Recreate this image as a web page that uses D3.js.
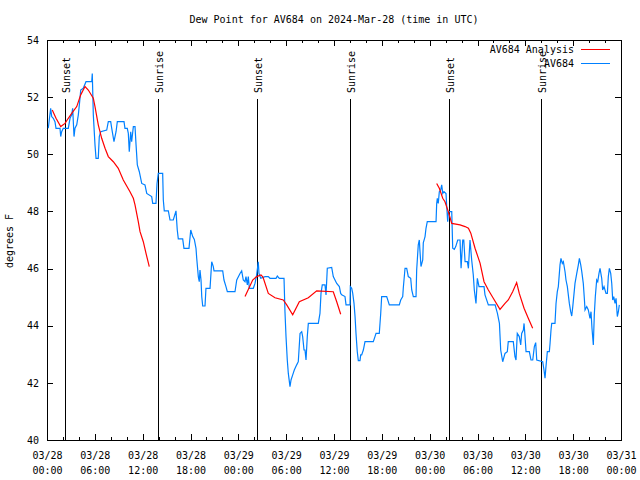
<!DOCTYPE html>
<html>
<head>
<meta charset="utf-8">
<script src="https://cdn.jsdelivr.net/npm/d3@7"></script>
<style>
  html, body { margin: 0; padding: 0; background: #ffffff; }
  svg { display: block; }
  text { font-family: "DejaVu Sans Mono", "Liberation Mono", monospace; font-size: 10px; fill: #000; }
</style>
</head>
<body>
<svg id="chart" width="640" height="480"></svg>
<script>
// ---------------- DATA ----------------
const titleText = "Dew Point for AV684 on 2024-Mar-28 (time in UTC)";
const yLabelText = "degrees F";
const seriesNames = ["AV684 Analysis", "AV684"];
const startDate = Date.UTC(2024, 2, 28, 0, 0);   // 03/28 00:00 UTC
const spanHours = 72;

const yTicks = [40, 42, 44, 46, 48, 50, 52, 54];
const xMajorTickHours = [0, 6, 12, 18, 24, 30, 36, 42, 48, 54, 60, 66, 72];
const xTickLine1 = ["03/28","03/28","03/28","03/28","03/29","03/29","03/29","03/29","03/30","03/30","03/30","03/30","03/31"];
const xTickLine2 = ["00:00","06:00","12:00","18:00","00:00","06:00","12:00","18:00","00:00","06:00","12:00","18:00","00:00"];

const sunsetHours = [2.26, 26.34, 50.43];
const sunriseHours = [13.92, 38.01, 61.97];

// Observations (AV684), hours since 03/28 00:00 UTC
const obsHours = [0.16,0.46,0.59,0.79,1.00,1.13,1.63,1.72,1.84,2.04,2.67,2.89,3.10,3.22,3.39,3.51,3.73,3.93,4.14,4.23,
4.55,4.89,5.61,5.68,5.81,6.02,6.15,6.43,6.56,6.74,7.49,7.69,7.99,8.12,8.40,8.66,8.82,9.66,9.78,10.07,
10.20,10.32,10.50,10.62,10.83,11.04,11.17,11.33,11.58,11.88,12.29,12.51,13.13,13.26,13.67,13.80,13.96,14.51,14.59,14.71,
15.22,15.43,15.84,16.18,16.34,16.47,17.02,17.18,17.81,18.03,18.28,18.48,18.69,18.78,18.98,19.10,19.19,19.32,19.41,19.53,
19.82,19.94,20.45,20.66,20.86,20.95,22.04,22.20,22.45,22.62,23.58,23.80,24.21,24.42,24.62,24.84,24.96,25.13,25.25,25.38,
25.88,26.09,26.30,26.50,26.59,26.81,27.35,27.76,27.97,28.73,28.89,29.14,29.73,29.85,29.98,30.14,30.27,30.48,30.61,30.82,
31.02,31.32,31.52,31.74,31.95,32.07,32.24,32.36,32.49,32.65,32.78,34.03,34.24,34.37,34.53,34.87,35.00,35.16,35.71,35.91,
36.34,36.67,36.84,36.97,37.38,37.51,38.01,38.05,38.22,38.35,38.51,38.64,38.76,38.92,39.05,39.26,39.35,39.47,39.68,39.89,
40.93,41.14,41.27,41.68,41.86,41.98,42.61,42.94,44.19,44.37,44.62,44.69,44.91,45.12,45.32,45.62,45.75,45.95,46.29,46.37,
46.57,46.70,46.79,46.91,47.13,47.20,47.42,47.54,47.70,48.80,48.88,48.96,49.08,49.21,49.38,49.51,49.64,49.80,50.05,50.14,
50.26,50.34,50.46,50.77,50.89,51.09,51.27,51.52,51.81,51.94,52.15,52.28,52.44,52.73,52.86,53.06,53.27,53.47,53.60,53.81,
53.98,54.19,54.82,54.94,55.36,56.21,56.50,56.75,56.91,57.16,57.45,57.74,57.86,58.49,58.70,58.83,58.99,59.24,59.42,59.54,
59.75,59.84,59.96,60.09,60.50,60.71,60.93,61.13,61.30,61.43,62.18,62.34,62.47,62.59,62.76,63.01,63.10,63.22,63.31,63.72,
63.85,64.01,64.14,64.35,64.47,64.64,64.77,64.98,65.10,65.27,65.52,65.69,65.82,65.95,66.11,66.23,66.45,66.65,66.78,66.95,
67.08,67.27,67.40,67.49,67.70,67.90,68.11,68.24,68.36,68.53,68.65,68.78,68.95,69.08,69.24,69.37,69.58,69.70,69.87,70.12,
70.29,70.41,70.54,70.71,70.84,70.96,71.09,71.25,71.38,71.54,71.67,71.79];
const obsValues = [50.91,51.61,51.32,51.26,51.14,50.91,50.91,50.62,50.79,50.91,50.91,51.26,51.38,51.61,50.62,50.91,51.03,51.38,51.96,52.25,
52.31,52.54,52.54,52.83,51.38,50.33,49.86,49.86,50.62,50.79,50.85,51.14,51.14,50.91,50.44,50.79,51.14,51.14,50.91,50.91,
50.73,50.09,50.79,50.44,50.97,50.97,50.33,49.63,49.39,48.98,48.93,48.63,48.52,48.28,48.28,48.98,49.33,49.33,48.40,48.02,
48.02,47.70,47.70,48.02,47.35,47.04,47.04,46.71,46.71,47.35,47.12,47.02,46.71,46.36,45.72,45.54,45.95,45.60,45.02,44.69,
44.69,45.31,45.31,46.24,46.07,45.92,45.92,45.60,45.37,45.19,45.19,45.60,45.83,45.92,45.60,45.54,45.72,45.43,45.72,45.31,
45.31,45.48,45.78,46.24,45.83,45.66,45.72,45.72,45.66,45.66,45.74,45.66,45.66,44.49,43.62,42.80,42.33,41.87,42.10,42.28,
42.45,42.63,42.74,43.73,43.79,43.62,43.15,43.15,42.80,43.62,44.08,44.08,44.43,45.13,45.43,45.43,45.08,46.01,46.04,45.72,
45.48,45.37,45.13,45.08,45.02,44.73,44.73,45.37,45.31,45.13,44.78,44.32,43.73,43.09,42.78,42.78,42.98,42.98,43.15,43.44,
43.44,43.62,43.73,43.73,44.43,45.02,45.02,44.73,44.73,44.90,45.02,45.31,46.01,46.01,45.72,45.66,45.25,45.02,45.02,45.95,
46.83,47.00,46.59,46.07,46.30,46.90,47.12,47.41,47.64,47.64,48.28,48.46,48.28,48.69,48.75,48.93,48.63,48.69,48.63,48.17,
47.64,47.95,47.99,47.99,46.71,46.67,46.77,47.00,47.00,46.01,47.00,47.00,46.24,46.24,46.01,47.00,46.30,45.78,45.25,44.78,
45.66,45.37,45.37,45.08,44.73,44.73,44.43,44.08,43.15,42.74,43.03,43.09,43.44,43.44,42.92,42.80,43.73,43.62,43.33,43.73,
43.85,44.08,43.62,43.09,43.09,42.80,42.80,43.27,43.41,42.80,42.74,42.45,42.16,42.57,43.09,43.09,43.38,43.85,44.08,44.08,
44.78,45.19,45.37,46.13,46.36,46.18,46.24,45.89,45.60,45.37,44.78,44.49,44.34,44.67,45.13,45.48,45.83,46.13,46.36,46.13,
45.89,45.48,44.96,44.55,44.67,44.55,44.26,44.49,43.91,43.33,44.38,45.02,45.60,45.54,45.83,46.01,45.66,45.25,45.37,45.13,
45.13,45.72,46.01,45.83,45.48,44.90,45.02,44.78,44.96,44.32,44.49,44.73];

// Analysis (AV684 Analysis); null = gap between analysis runs
const anaHours = [0.66,1.13,1.72,2.26,2.67,3.10,3.73,4.23,4.77,5.18,5.81,6.02,6.43,6.86,7.28,7.69,8.32,8.94,9.57,10.41,
10.83,11.04,11.45,11.67,12.08,12.42,12.83, 18.0,
24.84,25.80,26.30,26.84,27.09,27.76,28.60,29.64,30.07,30.82,31.65,32.78,33.83,35.91,36.34,36.84, 42.0,
48.88,49.21,49.64,49.92,50.34,50.77,51.81,52.44,52.86,53.16,53.69,54.32,54.82,55.36,55.98,56.82,57.45,57.86,58.41,58.91,
59.24,59.84,60.37,60.92];
const anaValues = [51.55,51.26,50.97,51.08,51.26,51.43,51.67,52.08,52.37,52.25,51.96,51.67,51.03,50.56,50.21,49.92,49.74,49.51,49.10,48.69,
48.46,48.23,47.64,47.29,46.94,46.53,46.07, null,
45.02,45.60,45.72,45.78,45.70,45.13,44.98,44.90,44.73,44.38,44.84,44.98,45.22,45.19,44.84,44.40, null,
48.98,48.81,48.46,48.34,47.99,47.58,47.53,47.47,47.41,47.24,46.71,46.19,45.54,45.25,44.96,44.57,44.78,44.90,45.19,45.51,
45.13,44.61,44.26,43.91];

// ---------------- CHART ----------------
const svg = d3.select("#chart");
const W = 640, H = 480;
const m = { left: 47, right: 621, top: 40, bottom: 440 };
const colors = { analysis: "#ff0000", obs: "#0080ff" };
const hourMs = 3600 * 1000;
const toDate = h => new Date(startDate + h * hourMs);

const x = d3.scaleUtc().domain([toDate(0), toDate(spanHours)]).range([m.left, m.right]);
const y = d3.scaleLinear().domain([40, 54]).range([m.bottom, m.top]);

svg.append("rect").attr("width", W).attr("height", H).attr("fill", "#fff");

// title
svg.append("text").attr("x", 334).attr("y", 23).attr("text-anchor", "middle").text(titleText);

// y axis label
svg.append("text")
  .attr("transform", "translate(13,241) rotate(-90)")
  .attr("text-anchor", "middle").text(yLabelText);

const majorDates = xMajorTickHours.map(toDate);
const minorDates = d3.range(0, spanHours + 0.001, 2).filter(h => h % 6 !== 0).map(toDate);

// Bottom axis major with labels
const gxB = svg.append("g").attr("transform", `translate(0,${m.bottom})`)
  .call(d3.axisBottom(x).tickValues(majorDates).tickSizeInner(-6).tickSizeOuter(0).tickPadding(13)
    .tickFormat((d, i) => xTickLine1[i]));
gxB.selectAll(".tick text").each(function(d, i) {
  const t = d3.select(this);
  t.text(null).attr("y", 0).attr("dy", null);
  t.append("tspan").attr("x", 0).attr("y", 19).text(xTickLine1[i]);
  t.append("tspan").attr("x", 0).attr("y", 34).text(xTickLine2[i]);
});
svg.append("g").attr("transform", `translate(0,${m.bottom})`)
  .call(d3.axisBottom(x).tickValues(minorDates).tickSizeInner(-3).tickSizeOuter(0).tickFormat(""));
// Top axis (mirror)
svg.append("g").attr("transform", `translate(0,${m.top})`)
  .call(d3.axisTop(x).tickValues(majorDates).tickSizeInner(-6).tickSizeOuter(0).tickFormat(""));
svg.append("g").attr("transform", `translate(0,${m.top})`)
  .call(d3.axisTop(x).tickValues(minorDates).tickSizeInner(-3).tickSizeOuter(0).tickFormat(""));
// Left axis
svg.append("g").attr("transform", `translate(${m.left},0)`)
  .call(d3.axisLeft(y).tickValues(yTicks).tickSizeInner(-6).tickSizeOuter(0).tickPadding(8).tickFormat(d3.format("d")));
// Right axis
svg.append("g").attr("transform", `translate(${m.right},0)`)
  .call(d3.axisRight(y).tickValues(yTicks).tickSizeInner(-6).tickSizeOuter(0).tickFormat(""));

svg.selectAll(".domain").remove();
svg.selectAll(".tick line").attr("stroke", "#000").attr("shape-rendering", "crispEdges");
svg.selectAll(".tick text").attr("font-family", "DejaVu Sans Mono, monospace").attr("font-size", 10).attr("fill", "#000");

// frame
svg.append("rect").attr("x", m.left + 0.5).attr("y", m.top + 0.5)
  .attr("width", m.right - m.left).attr("height", m.bottom - m.top)
  .attr("fill", "none").attr("stroke", "#000").attr("shape-rendering", "crispEdges");

// Sunrise / sunset markers
const events = sunsetHours.map(h => ({ h, label: "Sunset" }))
  .concat(sunriseHours.map(h => ({ h, label: "Sunrise" })));
const ev = svg.append("g").selectAll("g").data(events).join("g");
ev.append("line")
  .attr("x1", d => Math.round(x(toDate(d.h))) + 0.5).attr("x2", d => Math.round(x(toDate(d.h))) + 0.5)
  .attr("y1", 99).attr("y2", m.bottom)
  .attr("stroke", "#000").attr("stroke-width", 1).attr("shape-rendering", "crispEdges");
ev.append("text")
  .attr("transform", d => `translate(${Math.round(x(toDate(d.h))) + 4.5},93) rotate(-90)`)
  .attr("text-anchor", "start").text(d => d.label);

// Lines
const plot = svg.append("g");
const obsData = obsHours.map((h, i) => ({ t: toDate(h), v: obsValues[i] }));
const anaData = anaHours.map((h, i) => ({ t: toDate(h), v: anaValues[i] }));
const line = d3.line().defined(d => d.v !== null).x(d => x(d.t)).y(d => y(d.v));

plot.append("path").datum(obsData).attr("d", line)
  .attr("fill", "none").attr("stroke", colors.obs).attr("stroke-width", 1.2);
plot.append("path").datum(anaData).attr("d", line)
  .attr("fill", "none").attr("stroke", colors.analysis).attr("stroke-width", 1.2);

// Legend
const legend = svg.append("g");
const legendItems = [
  { name: seriesNames[0], color: colors.analysis, y: 49 },
  { name: seriesNames[1], color: colors.obs, y: 63 }
];
legendItems.forEach(it => {
  legend.append("text").attr("x", 574).attr("y", it.y + 3.5).attr("text-anchor", "end").text(it.name);
  legend.append("line").attr("x1", 581).attr("x2", 610).attr("y1", it.y + 0.5).attr("y2", it.y + 0.5)
    .attr("stroke", it.color).attr("stroke-width", 1).attr("shape-rendering", "crispEdges");
});
</script>
</body>
</html>
